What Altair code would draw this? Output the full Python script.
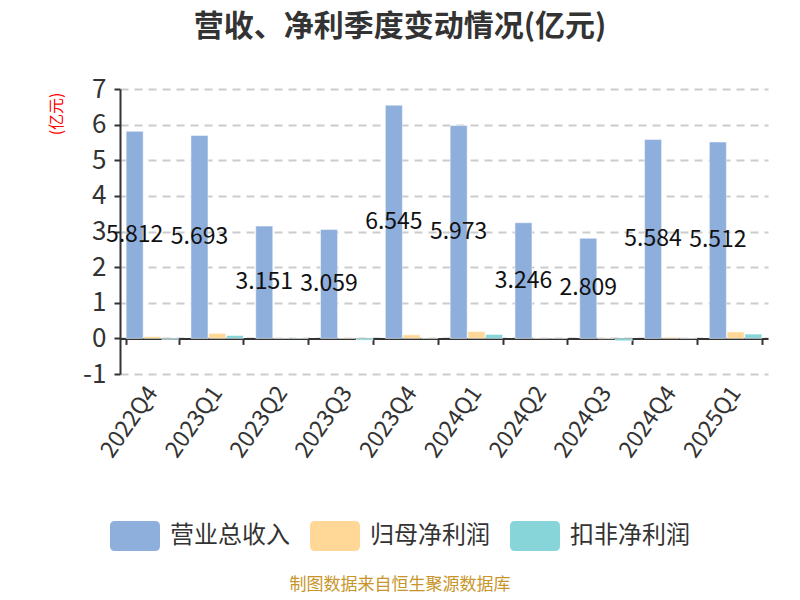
import altair as alt
import pandas as pd

quarters = ["2022Q4", "2023Q1", "2023Q2", "2023Q3", "2023Q4",
            "2024Q1", "2024Q2", "2024Q3", "2024Q4", "2025Q1"]
revenue = [5.812, 5.693, 3.151, 3.059, 6.545, 5.973, 3.246, 2.809, 5.584, 5.512]
net_profit = [0.05, 0.14, 0.01, 0.01, 0.10, 0.19, 0.01, -0.01, 0.03, 0.18]
deducted = [-0.03, 0.08, 0.01, -0.05, 0.005, 0.11, 0.005, -0.07, 0.01, 0.12]
series = ["营业总收入", "归母净利润", "扣非净利润"]
colors = ["#8eaedc", "#ffd897", "#87d5d9"]

rows = []
for i, q in enumerate(quarters):
    for s, vals in zip(series, [revenue, net_profit, deducted]):
        rows.append({"季度": q, "指标": s, "值": vals[i]})
df = pd.DataFrame(rows)

font = "Noto Sans CJK SC"

legend_path = ("M-0.8,-0.6 L0.8,-0.6 Q1,-0.6 1,-0.4 L1,0.4 Q1,0.6 0.8,0.6 "
               "L-0.8,0.6 Q-1,0.6 -1,0.4 L-1,-0.4 Q-1,-0.6 -0.8,-0.6 Z")

x_axis = alt.Axis(title=None, labelAngle=-55, labelAlign="right",
                  labelBaseline="middle", labelFontSize=23,
                  labelColor="#333333", labelPadding=44,
                  tickBand="extent", tickSize=6, tickColor="#333333",
                  tickWidth=2, domainColor="#333333", domainWidth=2,
                  offset=-35.6, grid=False, labelFont=font)
x_scale = alt.Scale(paddingInner=0.19, paddingOuter=0.095)

y_axis = alt.Axis(title="(亿元)", titleColor="red", titleFontSize=16,
                  titleFontWeight="normal", titleFont=font,
                  titleAngle=-90, titleAlign="right",
                  titleBaseline="middle", titleX=-64, titleY=3,
                  values=list(range(-1, 8)), labelFontSize=26,
                  labelExpr="datum.value + ''",
                  labelOverlap=False, labelBound=False,
                  labelColor="#333333", labelFont=font,
                  tickSize=6, tickColor="#333333", tickWidth=2,
                  domainColor="#333333", domainWidth=2,
                  grid=True, gridDash=[8, 6], gridColor="#cccccc",
                  gridWidth=2, labelPadding=8)
y_scale = alt.Scale(domain=[-1, 7], nice=False, zero=False)

bars = alt.Chart(df).mark_bar(stroke="white", strokeWidth=0.5).encode(
    x=alt.X("季度:N", sort=quarters, scale=x_scale, axis=x_axis),
    xOffset=alt.XOffset("指标:N", sort=series,
                        scale=alt.Scale(paddingInner=0.04, paddingOuter=0.0)),
    y=alt.Y("值:Q", scale=y_scale, axis=y_axis),
    color=alt.Color("指标:N", sort=series,
                    scale=alt.Scale(domain=series, range=colors),
                    legend=alt.Legend(title=None, orient="none",
                                      direction="horizontal",
                                      legendX=-10, legendY=422,
                                      symbolType=legend_path,
                                      symbolSize=2500, symbolStrokeWidth=0,
                                      symbolOpacity=1,
                                      labelFontSize=24, labelColor="#333333",
                                      labelFont=font, labelOffset=10,
                                      columnPadding=20)),
)

labels = alt.Chart(df).transform_filter(
    alt.datum["指标"] == "营业总收入"
).transform_calculate(
    mid="datum['值'] / 2"
).mark_text(fontSize=23, color="#111111", font=font, baseline="middle",
            align="center").encode(
    x=alt.X("季度:N", sort=quarters, scale=x_scale, axis=x_axis),
    xOffset=alt.XOffset("指标:N", sort=series),
    y=alt.Y("mid:Q", scale=y_scale, axis=y_axis),
    text=alt.Text("值:Q", format=".3f"),
)

source = alt.Chart(pd.DataFrame({"t": ["制图数据来自恒生聚源数据库"]})).mark_text(
    fontSize=17, color="#c8952a", font=font, align="center", baseline="middle"
).encode(x=alt.value(280), y=alt.value(496), text="t:N")

chart = alt.layer(bars, labels, source).properties(
    width=648, height=285,
    autosize=alt.AutoSizeParams(type="none"),
    padding={"left": 112, "top": 81, "right": 24, "bottom": 218},
    title=alt.TitleParams("营收、净利季度变动情况(亿元)", fontSize=30,
                          fontWeight="bold", color="#333333", font=font,
                          anchor="middle", dx=-44, offset=34),
).configure_view(stroke=None).configure_axisY(labelOverlap=False)

chart.save("out.html", embed_options={"renderer": "svg", "actions": False})
